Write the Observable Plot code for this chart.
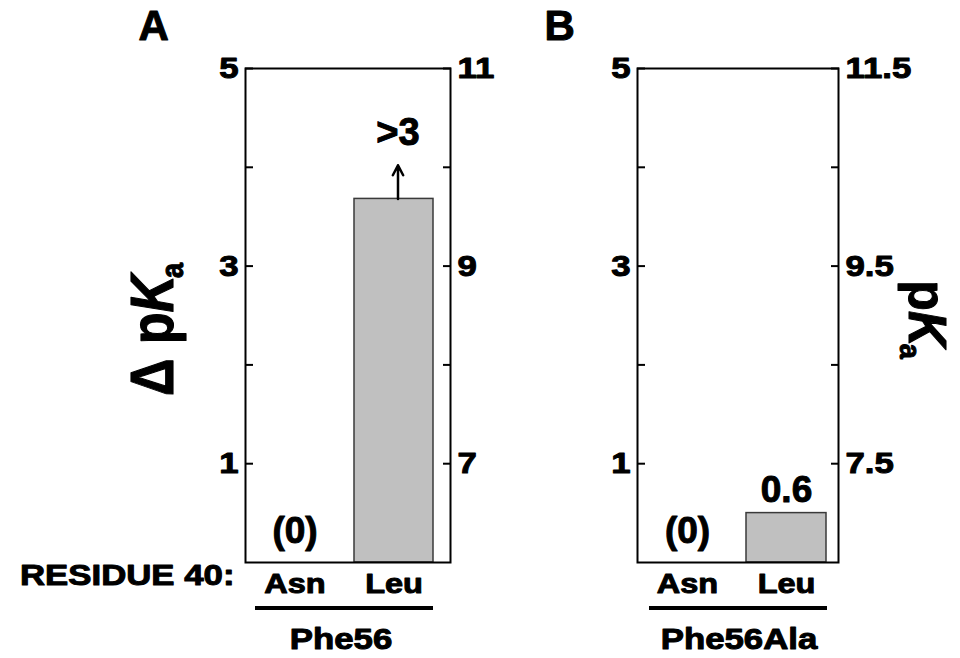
<!DOCTYPE html>
<html>
<head>
<meta charset="utf-8">
<script src="https://cdn.jsdelivr.net/npm/d3@7"></script>
<script src="https://cdn.jsdelivr.net/npm/@observablehq/plot@0.6"></script>
<style>
  body { margin: 0; background: #fff; }
  #chart { position: relative; width: 960px; height: 658px; overflow: hidden; background: #fff; }
  #chart svg { position: absolute; top: 0; }
  #chart text { stroke: #000; stroke-width: 1px; stroke-linejoin: round; }
</style>
</head>
<body>
<div id="chart"></div>
<script>
// ---------- data ----------
const residues = ["Asn", "Leu"];
const deltaPkaA = [0, 3.68];
const valueLabelsA = ["(0)", ">3"];
const arrowTipA = [null, 4.02];
const deltaPkaB = [0, 0.5];
const valueLabelsB = ["(0)", "0.6"];
const arrowTipB = [null, null];
const yTickValues = [1, 2, 3, 4, 5];
const leftTickLabels = ["1", "", "3", "", "5"];
const rightTickLabelsA = ["7", "", "9", "", "11"];
const rightTickLabelsB = ["7.5", "", "9.5", "", "11.5"];
const groupLabels = ["Phe56", "Phe56Ala"];
const panelLetters = ["A", "B"];
const residueHeading = "RESIDUE 40:";
const yTitle = "Δ pKa";
const y2Title = "pKa";

// ---------- style ----------
const FONT = "'Liberation Sans', Arial, Helvetica, sans-serif";
const STRETCH = 1.16;

function panel(cfg) {
  const data = residues.map((r, i) => ({residue: r, value: cfg.values[i], label: cfg.labels[i], tip: cfg.tips[i]}));
  const withTip = data.filter(d => d.tip != null);
  const zeroLabels = data.filter(d => d.tip == null && d.value === 0);
  const valueLabels = data.filter(d => d.tip == null && d.value > 0);
  const marks = [
    Plot.barY(data.filter(d => d.value > 0), {x: "residue", y: "value", fill: "#c0c0c0", stroke: "#3a3a3a", strokeWidth: 1.5}),
    Plot.arrow(withTip, {x: "residue", y1: "value", y2: "tip", stroke: "black", strokeWidth: 2.5, headLength: 20, headAngle: 55, dx: 4}),
    Plot.text(withTip, {x: "residue", y: "tip", text: "label", lineAnchor: "bottom", dy: -20, dx: 4, fontSize: 38}),
    Plot.text(zeroLabels, {x: "residue", y: "value", text: "label", lineAnchor: "bottom", dy: -20, fontSize: 37}),
    Plot.text(valueLabels, {x: "residue", y: "value", text: "label", lineAnchor: "bottom", dy: -11, fontSize: 37}),
    Plot.frame({stroke: "black", strokeWidth: 2}),
    Plot.axisY(yTickValues, {anchor: "left", tickSize: 8, insetLeft: 8, tickPadding: 7, strokeWidth: 2, fontSize: 30,
      tickFormat: d => leftTickLabels[yTickValues.indexOf(d)], label: null}),
    Plot.axisY(yTickValues, {anchor: "right", tickSize: 8, insetRight: 8, tickPadding: 7, strokeWidth: 2, fontSize: 30,
      tickFormat: d => cfg.rightLabels[yTickValues.indexOf(d)], label: null}),
    Plot.axisX({tickSize: 0, tickPadding: 11, fontSize: 28, label: null}),
    Plot.ruleY([0], {dy: 45.5, insetLeft: cfg.lineInsetLeft, insetRight: cfg.lineInsetRight, strokeWidth: 4}),
    Plot.text([cfg.group], {text: d => d, frameAnchor: "bottom", lineAnchor: "top", dy: 65, dx: cfg.groupDx, fontSize: 30}),
    Plot.text([cfg.letter], {text: d => d, frameAnchor: "top-left", textAnchor: "start", lineAnchor: "bottom", dx: cfg.letterDx, dy: -29, fontSize: 42})
  ];
  if (cfg.heading) marks.push(Plot.text([cfg.heading], {text: d => d, frameAnchor: "bottom-left", textAnchor: "end", lineAnchor: "top", dx: -11, dy: 1, fontSize: 30}));
  if (cfg.title) marks.push(Plot.text([cfg.title], {text: d => d, frameAnchor: cfg.titleAnchor, textAnchor: "middle", lineAnchor: "middle",
    rotate: cfg.titleRotate, dx: cfg.titleDx, dy: cfg.titleDy, fontSize: cfg.titleSize}));
  return Plot.plot({
    width: 480, height: 658,
    marginLeft: cfg.ml, marginRight: cfg.mr, marginTop: 68, marginBottom: 96,
    x: {domain: residues, paddingInner: cfg.pi, paddingOuter: cfg.po, align: cfg.align, label: null},
    y: {domain: [0, 5], label: null},
    style: {fontFamily: FONT, fontWeight: "bold", color: "black", background: "transparent", overflow: "visible"},
    marks
  });
}

const svgA = panel({
  values: deltaPkaA, labels: valueLabelsA, tips: arrowTipA, rightLabels: rightTickLabelsA,
  group: groupLabels[0], letter: panelLetters[0], heading: residueHeading,
  title: yTitle, titleAnchor: "left", titleRotate: -90, titleDx: -92, titleDy: 14, titleSize: 52,
  ml: 245, mr: 30, pi: 0.2, po: 0.13, align: 0.355,
  lineInsetLeft: 10, lineInsetRight: 17, groupDx: -7, letterDx: -107
});
const svgB = panel({
  values: deltaPkaB, labels: valueLabelsB, tips: arrowTipB, rightLabels: rightTickLabelsB,
  group: groupLabels[1], letter: panelLetters[1], heading: null,
  title: y2Title, titleAnchor: "right", titleRotate: 90, titleDx: 88, titleDy: 4, titleSize: 50,
  ml: 157, mr: 122, pi: 0.19, po: 0.105, align: 0.45,
  lineInsetLeft: 12, lineInsetRight: 11, groupDx: 1, letterDx: -93
});
svgA.style.left = "0px";
svgB.style.left = "480px";
const chart = document.getElementById("chart");
chart.appendChild(svgA);
chart.appendChild(svgB);

// subscript / italic for pKa titles
const NS = "http://www.w3.org/2000/svg";
const titleStretch = new Map([[yTitle, 1.16], [y2Title, 1.08]]);
for (const svg of [svgA, svgB]) {
  svg.querySelectorAll("text").forEach(t => {
    const s = t.textContent;
    if (s === yTitle || s === y2Title) {
      const base = s.slice(0, -2);
      t.textContent = "";
      if (base) { const a = document.createElementNS(NS, "tspan"); a.textContent = base; t.appendChild(a); }
      const k = document.createElementNS(NS, "tspan"); k.textContent = "K"; k.setAttribute("font-style", "italic"); t.appendChild(k);
      const sub = document.createElementNS(NS, "tspan"); sub.textContent = "a"; sub.setAttribute("font-size", "27"); sub.setAttribute("dy", "9"); sub.setAttribute("dx", "-3"); t.appendChild(sub);
      const tr = t.getAttribute("transform") || "";
      t.setAttribute("transform", (tr + ` scale(1,${titleStretch.get(s)})`).trim());
    }
  });
}

// the original's small labels are horizontally widened: scale them about their anchor
const stretchSet = new Set([...leftTickLabels, ...rightTickLabelsA, ...rightTickLabelsB, ...residues, ...groupLabels, residueHeading].filter(s => s));
for (const svg of [svgA, svgB]) {
  svg.querySelectorAll("text").forEach(t => {
    if (!stretchSet.has(t.textContent)) return;
    const x = t.getAttribute("x");
    if (x != null) t.setAttribute("x", (+x / STRETCH).toFixed(2));
    const tr = t.getAttribute("transform") || "";
    t.setAttribute("transform", (tr + ` scale(${STRETCH},1)`).trim());
  });
}
</script>
</body>
</html>
